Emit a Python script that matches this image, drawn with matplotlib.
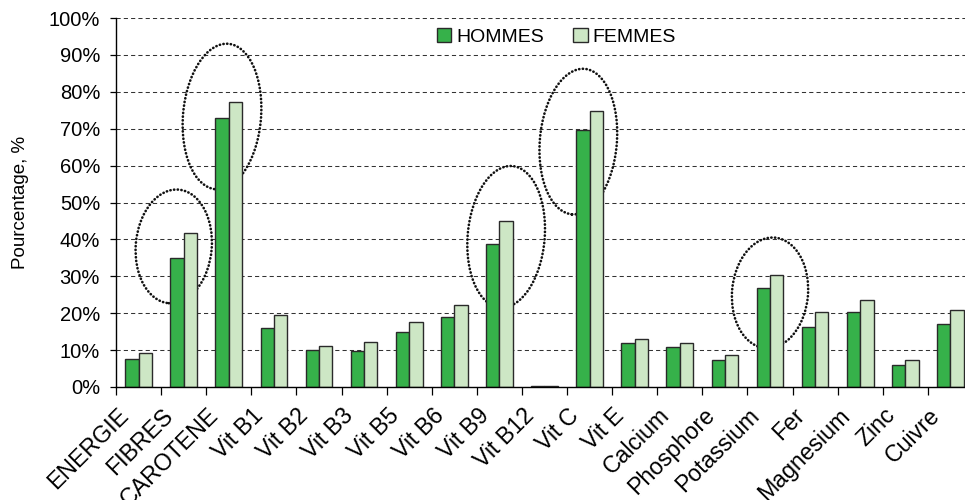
import matplotlib
matplotlib.use("Agg")
import matplotlib.pyplot as plt
import matplotlib.transforms as mtransforms
from matplotlib.patches import Ellipse
from matplotlib.ticker import FixedLocator, PercentFormatter
import numpy as np

plt.rcParams['font.family'] = ['Liberation Sans', 'DejaVu Sans']

categories = ["ENERGIE", "FIBRES", "CAROTENE", "Vit B1", "Vit B2", "Vit B3", "Vit B5",
              "Vit B6", "Vit B9", "Vit B12", "Vit C", "Vit E", "Calcium", "Phosphore",
              "Potassium", "Fer", "Magnesium", "Zinc", "Cuivre"]
hommes = [7.6, 34.9, 72.8, 16.0, 9.9, 9.8, 15.0, 19.1, 38.7, 0.3, 69.7, 11.8, 10.9, 7.2,
          26.8, 16.2, 20.3, 5.9, 17.2]
femmes = [9.1, 41.7, 77.3, 19.4, 11.2, 12.1, 17.5, 22.2, 45.1, 0.3, 74.8, 13.1, 11.8, 8.6,
          30.3, 20.2, 23.5, 7.4, 21.0]
series_labels = ["HOMMES", "FEMMES"]
y_ticks = [0, 10, 20, 30, 40, 50, 60, 70, 80, 90, 100]
y_label = "Pourcentage, %"

# highlighted groups: (category index, centre value %)
highlights = [(0.78, 38.1), (1.85, 73.3), (8.15, 40.7), (9.75, 66.5), (14.0, 25.5)]
highlight_px = [(76, 114), (78, 146), (77, 142), (77, 146), (76, 111)]

c_h = "#36b14a"
c_f = "#cde7c5"
edge = "#2a2a2a"

fig = plt.figure(figsize=(9.65, 5.0), dpi=100)
ax = fig.add_axes([116 / 965, 113 / 500, 857 / 965, 369 / 500])

x = np.arange(len(categories))
w = 0.296
ax.bar(x - w / 2, hommes, width=w, color=c_h, edgecolor=edge, linewidth=1.0,
       label=series_labels[0], zorder=3)
ax.bar(x + w / 2, femmes, width=w, color=c_f, edgecolor=edge, linewidth=1.0,
       label=series_labels[1], zorder=3)

ax.set_xlim(-0.5, len(categories) - 0.5)
ax.set_ylim(0, 100)
ax.yaxis.set_major_locator(FixedLocator(y_ticks))
ax.yaxis.set_major_formatter(PercentFormatter(decimals=0))
ax.grid(axis='y', color='#333333', linestyle=(0, (4, 3)), linewidth=0.75, zorder=1)

for s in ['top', 'right']:
    ax.spines[s].set_visible(False)
for s in ['left', 'bottom']:
    ax.spines[s].set_color('black')
    ax.spines[s].set_linewidth(1.0)
    ax.spines[s].set_zorder(4)

ax.tick_params(axis='y', length=4.5, width=0.9, direction='out', pad=7, labelsize=14.5)
ax.set_xticks(x)
ax.set_xticks(np.arange(-0.5, len(categories), 1.0), minor=True)
ax.tick_params(axis='x', which='major', length=0, pad=18)
ax.tick_params(axis='x', which='minor', length=5.5, width=0.9, direction='out')
ax.set_xticklabels(categories, rotation=45, ha='right', va='center',
                   rotation_mode='anchor', fontsize=16.7)
offset = mtransforms.ScaledTranslation(-14 / 100, 0, fig.dpi_scale_trans)
for lab in ax.get_xticklabels():
    lab.set_transform(lab.get_transform() + offset)

ax.set_ylabel(y_label, fontsize=13.5)
ax.yaxis.set_label_coords(-0.101, 0.5)

for (cx, cy), (pw, ph) in zip(highlights, highlight_px):
    tr = fig.dpi_scale_trans + mtransforms.ScaledTranslation(cx, cy, ax.transData)
    e = Ellipse((0, 0), pw / 100, ph / 100, angle=-5, transform=tr, fill=False,
                edgecolor='#111111', linewidth=1.9, linestyle=(0, (0.1, 1.3)), zorder=2,
                clip_on=False)
    e.set_capstyle('round')
    ax.add_patch(e)

leg = ax.legend(loc='center', bbox_to_anchor=(0.514, 0.949), ncol=2, frameon=False,
                fontsize=14, handlelength=0.75, handleheight=0.75, handletextpad=0.25,
                columnspacing=1.5, borderaxespad=0)

fig.savefig("out.png", dpi=100)
